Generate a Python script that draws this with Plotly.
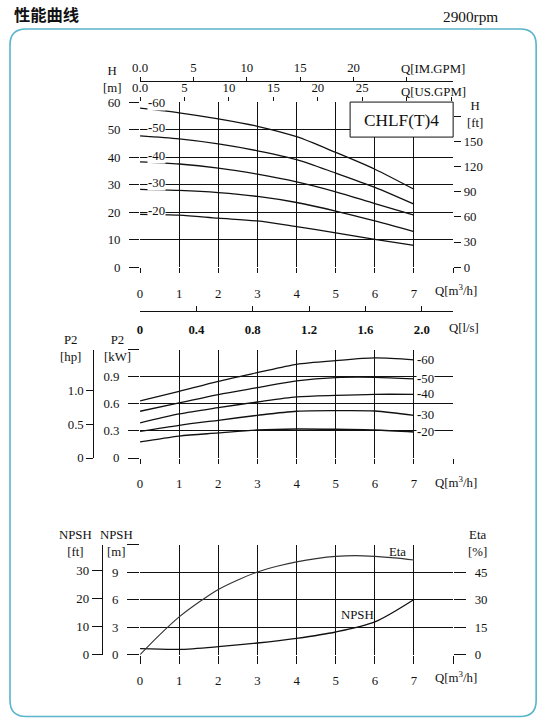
import plotly.graph_objects as go

W, H = 544, 724
SERIF = "Liberation Serif"
INK = "#111111"

# flow rate, m3/h
q = [0, 1, 2, 3, 4, 5, 6, 7]
stages = ["-60", "-50", "-40", "-30", "-20"]

# head, m
head_60 = [57.8, 56.1, 53.9, 51.2, 47.4, 41.7, 35.6, 28.3]
head_50 = [47.7, 46.6, 44.8, 42.3, 39.1, 34.2, 29.0, 22.9]
head_40 = [38.3, 37.5, 36.0, 33.8, 31.0, 27.4, 23.1, 18.9]
head_30 = [28.3, 27.9, 27.1, 25.7, 23.5, 20.4, 16.8, 12.9]
head_20 = [19.2, 18.9, 17.8, 16.8, 14.7, 12.5, 10.1, 7.9]

# shaft power P2, kW
p2_60 = [0.633, 0.741, 0.852, 0.948, 1.040, 1.081, 1.111, 1.089]
p2_50 = [0.519, 0.611, 0.704, 0.781, 0.856, 0.893, 0.896, 0.878]
p2_40 = [0.389, 0.489, 0.559, 0.622, 0.678, 0.696, 0.707, 0.707]
p2_30 = [0.296, 0.363, 0.419, 0.474, 0.519, 0.526, 0.522, 0.474]
p2_20 = [0.178, 0.244, 0.278, 0.311, 0.322, 0.319, 0.311, 0.289]

# NPSH, m
npsh = [0.66, 0.58, 0.88, 1.28, 1.79, 2.48, 3.58, 6.02]

# efficiency, %
q_eta = [0, 0.5, 1, 1.5, 2, 2.5, 3, 3.5, 4, 4.5, 5, 5.5, 6, 6.5, 7]
eta = [0, 10.8, 20.6, 28.6, 35.6, 40.8, 45.1, 48.2, 50.6, 52.4, 53.6, 54.0, 53.6, 52.8, 51.6]

heads = [head_60, head_50, head_40, head_30, head_20]
powers = [p2_60, p2_50, p2_40, p2_30, p2_20]

# unit conversions
US_GPM = 4.40287
IM_GPM = 3.66615
LPS = 1 / 3.6
FT = 3.28084
HP = 1 / 0.7457

# the photographed page comes out slightly shrunk and offset; undo that here
SX, BX = 0.985, 8.0
SY, BY = 0.98, 7.0


def X(p):
    return (p - BX) / SX / W


def Y(p):
    return 1 - (p - BY) / SY / H


def fs(s):
    return round(s / SY, 1)


dom_x = [X(140), X(453)]
dom_top = [Y(267), Y(102)]
dom_mid = [Y(457.7), Y(349.7)]
dom_bot = [Y(654.3), Y(544.3)]

fig = go.Figure()
line = dict(color=INK, width=1.3, shape="spline", smoothing=0.8)
ghost = dict(mode="lines", line=dict(color="rgba(0,0,0,0)", width=0),
             hoverinfo="skip", showlegend=False)

for name, h in zip(stages, heads):
    fig.add_trace(go.Scatter(x=q, y=h, mode="lines", line=line,
                             xaxis="x", yaxis="y", showlegend=False))
for name, p in zip(stages, powers):
    fig.add_trace(go.Scatter(x=q, y=p, mode="lines", line=line,
                             xaxis="x4", yaxis="y3", showlegend=False))
fig.add_trace(go.Scatter(x=q, y=npsh, mode="lines", line=line,
                         xaxis="x6", yaxis="y5", showlegend=False))
fig.add_trace(go.Scatter(x=q_eta, y=eta, mode="lines",
                         line=dict(color="#333333", width=1.1, shape="spline"),
                         xaxis="x6", yaxis="y7", showlegend=False))

# same curves in the secondary units, invisible, so the extra scales get drawn
fig.add_trace(go.Scatter(x=[v * US_GPM for v in q], y=head_60, xaxis="x2", yaxis="y", **ghost))
fig.add_trace(go.Scatter(x=[v * IM_GPM for v in q], y=head_60, xaxis="x3", yaxis="y", **ghost))
fig.add_trace(go.Scatter(x=q, y=[v * FT for v in head_60], xaxis="x", yaxis="y2", **ghost))
fig.add_trace(go.Scatter(x=[v * LPS for v in q], y=p2_60, xaxis="x5", yaxis="y3", **ghost))
fig.add_trace(go.Scatter(x=q, y=[v * HP for v in p2_60], xaxis="x4", yaxis="y4", **ghost))
fig.add_trace(go.Scatter(x=q, y=[v * FT for v in npsh], xaxis="x6", yaxis="y6", **ghost))

tf = dict(family=SERIF, size=fs(12.5), color=INK)
grid = dict(showgrid=True, gridcolor=INK, gridwidth=1, zeroline=False,
            ticks="outside", tickcolor=INK, tickwidth=1, tickfont=tf)
qticks = dict(range=[0, 8], tickvals=list(range(9)),
              ticktext=[str(v) for v in range(8)] + [""],
              ticklen=5, ticklabelstandoff=9, domain=dom_x)
extra = dict(showgrid=False, zeroline=False, tickcolor=INK, tickfont=tf,
             ticks="outside")

fig.update_layout(
    width=W, height=H, margin=dict(l=0, r=0, t=0, b=0),
    paper_bgcolor="white", plot_bgcolor="white",
    font=dict(family=SERIF, color=INK),
    # head chart
    xaxis=dict(anchor="y", **qticks, **grid),
    yaxis=dict(anchor="x", domain=dom_top, range=[0, 60], dtick=10,
               ticklen=10, ticklabelstandoff=6, **grid),
    yaxis2=dict(overlaying="y", side="right", anchor="x", range=[0, 60 * FT],
                tickvals=[0, 30, 60, 90, 120, 150, 180],
                ticktext=["0", "30", "60", "90", "120", "150", ""],
                ticklen=7, **extra),
    xaxis2=dict(overlaying="x", side="top", anchor="y", range=[0, 8 * US_GPM],
                tickvals=[0, 5, 10, 15, 20, 25, 30, 35],
                ticktext=["0.0", "5", "10", "15", "20", "25", "", ""],
                ticklen=4, **extra),
    xaxis3=dict(overlaying="x", side="top", anchor="free", position=Y(81),
                range=[0, 8 * IM_GPM], showline=True, linecolor=INK, linewidth=1,
                tickvals=[0, 5, 10, 15, 20, 25],
                ticktext=["0.0", "5", "10", "15", "20", ""],
                ticklen=4, **extra),
    # power chart
    xaxis4=dict(anchor="y3", **qticks, **grid),
    yaxis3=dict(anchor="x4", domain=dom_mid, range=[0, 1.2],
                tickvals=[0, 0.3, 0.6, 0.9, 1.2],
                ticktext=["0", "0.3", "0.6", "0.9", ""],
                ticklen=11, ticklabelstandoff=6, **grid),
    yaxis4=dict(overlaying="y3", side="left", anchor="free", position=X(93.3),
                range=[0, 1.2 * HP], showline=True, linecolor=INK, linewidth=1,
                tickvals=[0, 0.5, 1.0], ticktext=["0", "0.5", "1.0"],
                ticklen=7, **extra),
    xaxis5=dict(overlaying="x4", side="bottom", anchor="free", position=Y(311),
                range=[0, 8 * LPS], showline=True, linecolor=INK, linewidth=1,
                tickvals=[0, 0.4, 0.8, 1.2, 1.6, 2.0],
                ticktext=["<b>0</b>", "<b>0.4</b>", "<b>0.8</b>", "<b>1.2</b>",
                          "<b>1.6</b>", "<b>2.0</b>"],
                showgrid=False, zeroline=False, tickcolor=INK, tickfont=tf,
                ticks="inside", ticklen=5, ticklabelstandoff=6),
    # npsh / efficiency chart
    xaxis6=dict(anchor="y5", **dict(qticks, ticklen=8, ticklabelstandoff=6), **grid),
    yaxis5=dict(anchor="x6", domain=dom_bot, range=[0, 12],
                tickvals=[0, 3, 6, 9, 12], ticktext=["0", "3", "6", "9", ""],
                ticklen=12, ticklabelstandoff=6, **grid),
    yaxis6=dict(overlaying="y5", side="left", anchor="free", position=X(101.7),
                range=[0, 12 * FT], showline=True, linecolor=INK, linewidth=1,
                tickvals=[0, 10, 20, 30], ticklen=10, **extra),
    yaxis7=dict(overlaying="y5", side="right", anchor="x6", range=[0, 60],
                tickvals=[0, 15, 30, 45], ticklen=12, ticklabelstandoff=6,
                **extra),
)

ann = []


def label(text, x, y, size=12.5, xanchor="center", **kw):
    ann.append(dict(text=text, x=X(x), y=Y(y), xref="paper", yref="paper",
                    showarrow=False, xanchor=xanchor, yanchor="middle",
                    font=dict(family=SERIF, size=fs(size), color=INK), **kw))


# header
ann.append(dict(text="<b>性能曲线</b>", x=X(12), y=Y(14), xref="paper", yref="paper",
                showarrow=False, xanchor="left", yanchor="middle",
                font=dict(family="Noto Sans CJK SC", size=fs(16), color="#111")))
label("2900rpm", 500, 16, size=15, xanchor="right")

# axis titles
label("H<br>[m]", 112, 79)
label("H<br>[ft]", 475, 114)
label("Q[IM.GPM]", 433, 69)
label("Q[US.GPM]", 433, 92)
label("Q[m<sup>3</sup>/h]", 456, 290)
label("CHLF(T)4", 401, 120, size=17)
label("P2<br>[hp]", 70, 348)
label("P2<br>[kW]", 117, 348)
label("Q[l/s]", 464, 328)
label("Q[m<sup>3</sup>/h]", 456, 482)
label("NPSH<br>[ft]", 75, 543)
label("NPSH<br>[m]", 116, 543)
label("Eta<br>[%]", 477, 543)
label("Eta", 397, 552)
label("NPSH", 357, 615)
label("Q[m<sup>3</sup>/h]", 456, 677)

# stage labels
for name in stages:
    ann.append(dict(text="<b>-</b>" + name[1:], x=0.18,
                    y=min(abs(int(name)) + 0.5, 59.5),
                    xref="x", yref="y", showarrow=False, xanchor="left",
                    yanchor="middle", bgcolor="white", borderpad=0,
                    font=dict(family=SERIF, size=fs(12.5), color=INK)))
for name, p in zip(stages, powers):
    ann.append(dict(text="<b>-</b>" + name[1:], x=7.05, y=p[-1],
                    xref="x4", yref="y3", showarrow=False, xanchor="left",
                    yanchor="middle", bgcolor="white", borderpad=0,
                    font=dict(family=SERIF, size=fs(12.5), color=INK)))

fig.update_layout(annotations=ann)

# rounded frame and model box
r = 16
L, R, T, B = 10, 536, 29, 716
frame = (f"M {X(L + r)},{Y(T)} L {X(R - r)},{Y(T)} Q {X(R)},{Y(T)} {X(R)},{Y(T + r)} "
         f"L {X(R)},{Y(B - r)} Q {X(R)},{Y(B)} {X(R - r)},{Y(B)} "
         f"L {X(L + r)},{Y(B)} Q {X(L)},{Y(B)} {X(L)},{Y(B - r)} "
         f"L {X(L)},{Y(T + r)} Q {X(L)},{Y(T)} {X(L + r)},{Y(T)} Z")
fig.add_shape(type="path", path=frame, xref="paper", yref="paper",
              line=dict(color="#5ab4cc", width=1.6))
fig.add_shape(type="rect", xref="paper", yref="paper",
              x0=X(350), x1=X(453), y0=Y(137), y1=Y(102),
              line=dict(color=INK, width=1), fillcolor="white", layer="above")

fig.write_html("out.html", config={"displayModeBar": False}, post_script=(
    "document.body.style.margin='0';"
    "document.body.style.overflow='hidden';"))
